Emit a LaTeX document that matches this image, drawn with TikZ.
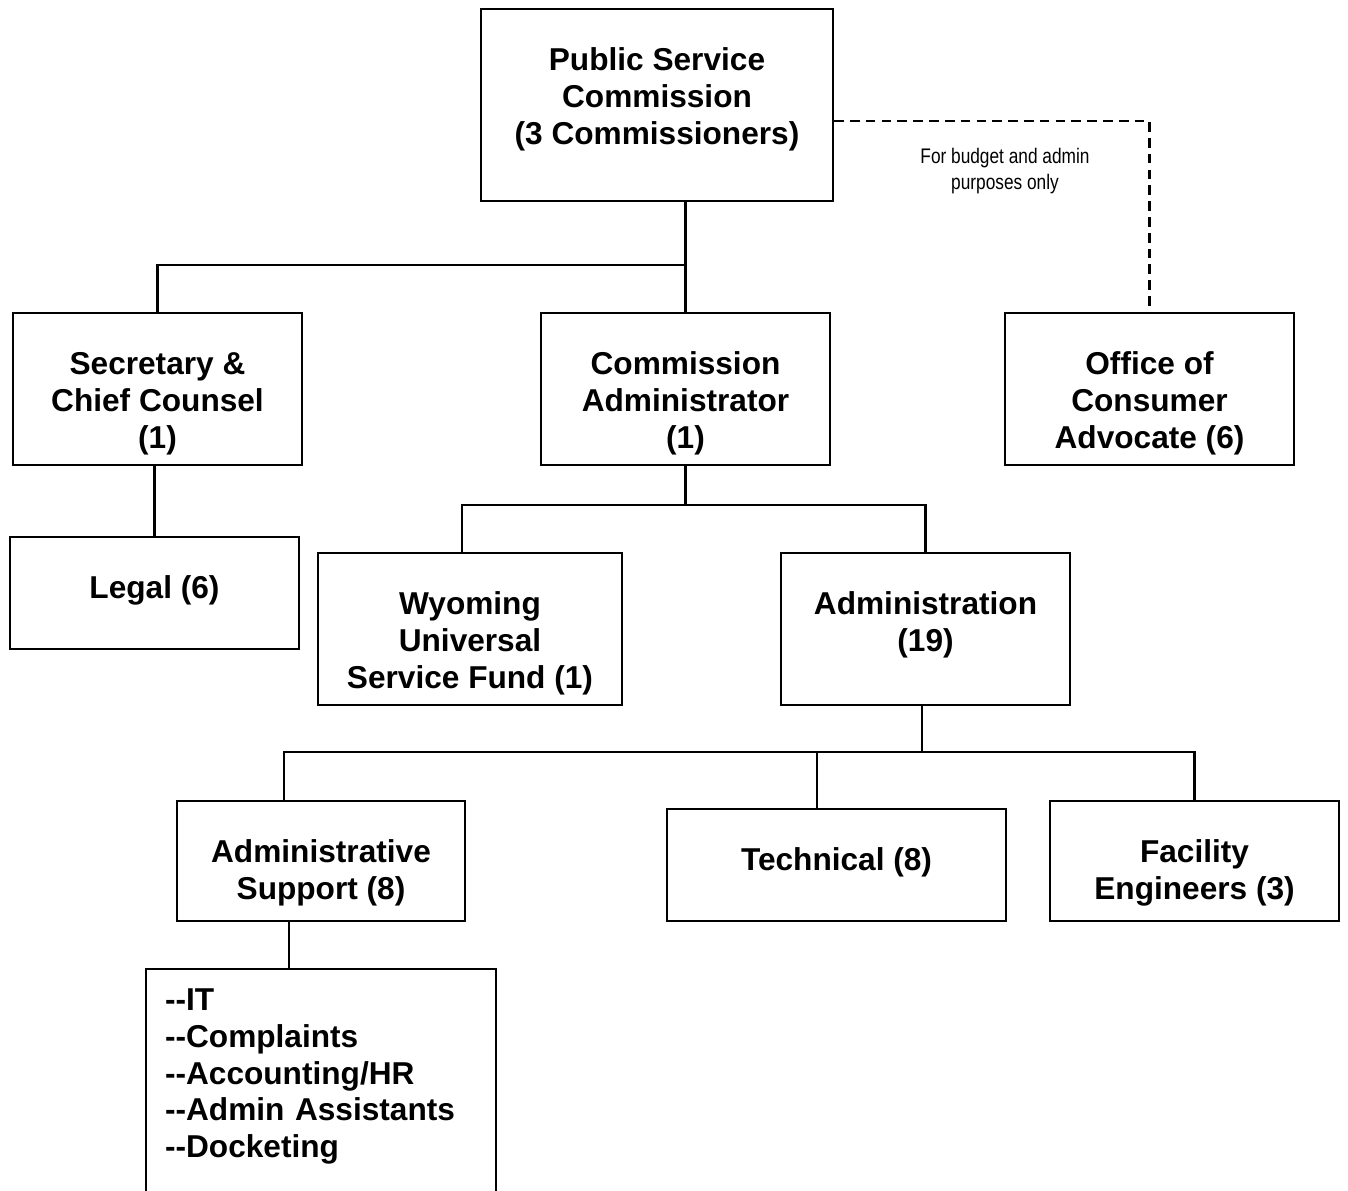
\documentclass[tikz,border=0pt]{standalone}
\usepackage{fontspec}
\setmainfont{Liberation Sans}
\newfontfamily\narrowfont{Liberation Sans}[FakeStretch=0.82]
\usetikzlibrary{positioning}

\newcommand\twodash{-\kern0pt-}

\tikzset{
    unit/.style={rectangle, draw, line width=1.4pt, anchor=north, align=center,
        inner xsep=0pt, inner ysep=0pt,
        font=\fontsize{18}{21}\selectfont\bfseries},
    link/.style={line width=1.4pt},
}

\begin{document}
\begin{tikzpicture}[x=0.02cm, y=-0.02cm]
    \clip (0,0) rectangle (1348,1190);

    \node (psc) [unit, minimum width=7.04cm, text height=2.70cm, text depth=1.14cm] at (657,8) {Public Service\\Commission\\(3 Commissioners)};
    \node (sec) [unit, minimum width=5.78cm, text height=2.70cm, text depth=0.34cm] at (157.5,312) {Secretary \&\\Chief Counsel\\(1)};
    \node (cadm) [unit, minimum width=5.78cm, text height=2.70cm, text depth=0.34cm] at (685.5,312) {Commission\\Administrator\\(1)};
    \node (oca) [unit, minimum width=5.78cm, text height=2.70cm, text depth=0.34cm] at (1149.5,312) {Office of\\Consumer\\Advocate (6)};
    \node (legal) [unit, minimum width=5.78cm, text height=1.22cm, text depth=1.02cm] at (154.5,536) {Legal (6)};
    \node (wusf) [unit, minimum width=6.08cm, text height=2.70cm, text depth=0.34cm] at (470,552) {Wyoming\\Universal\\Service Fund (1)};
    \node (admin) [unit, minimum width=5.78cm, text height=1.96cm, text depth=1.08cm] at (925.5,552) {Administration\\(19)};
    \node (asup) [unit, minimum width=5.76cm, text height=1.96cm, text depth=0.44cm] at (321,800) {Administrative\\Support (8)};
    \node (tech) [unit, minimum width=6.78cm, text height=1.22cm, text depth=1.02cm] at (836.5,808) {Technical (8)};
    \node (fac) [unit, minimum width=5.78cm, text height=1.96cm, text depth=0.44cm] at (1194.5,800) {Facility\\Engineers (3)};
    \node (tasks) [unit, align=left, text width=6.24cm, inner xsep=0.38cm, text height=0.82cm, text depth=4.38cm] at (321,968) {\twodash IT\\\twodash Complaints\\\twodash Accounting/HR\\\twodash Admin Assistants\\\twodash Docketing};

    \node (note) [font=\narrowfont\fontsize{12}{14.8}\selectfont, align=center] at (1005,171) {For budget and admin\\purposes only};

    \coordinate (bus top) at (685,265);
    \coordinate (bus mid) at (685.5,505);
    \coordinate (bus low) at (922,752);

    \draw [link] (cadm.north) -- (cadm.north |- psc.south);
    \draw [link] (sec.north) |- (bus top);
    \draw [link, dash pattern=on 5.5pt off 3.5pt] ([yshift=-0.32cm]psc.east) -| (oca.north);
    \draw [link] (legal.north) -- (legal.north |- sec.south);
    \draw [link] (cadm.south) -- (bus mid);
    \draw [link] ([xshift=-0.16cm]wusf.north) |- (bus mid) -| (admin.north);
    \draw [link] (admin.south -| bus low) -- (bus low);
    \draw [link] ([xshift=-0.74cm]asup.north) |- (fac.north |- bus low) -- (fac.north);
    \draw [link] ([xshift=-0.39cm]tech.north) -- ([xshift=-0.39cm]tech.north |- bus low);
    \draw [link] ([xshift=-0.64cm]asup.south) -- ([xshift=-0.64cm]tasks.north);
\end{tikzpicture}
\end{document}
